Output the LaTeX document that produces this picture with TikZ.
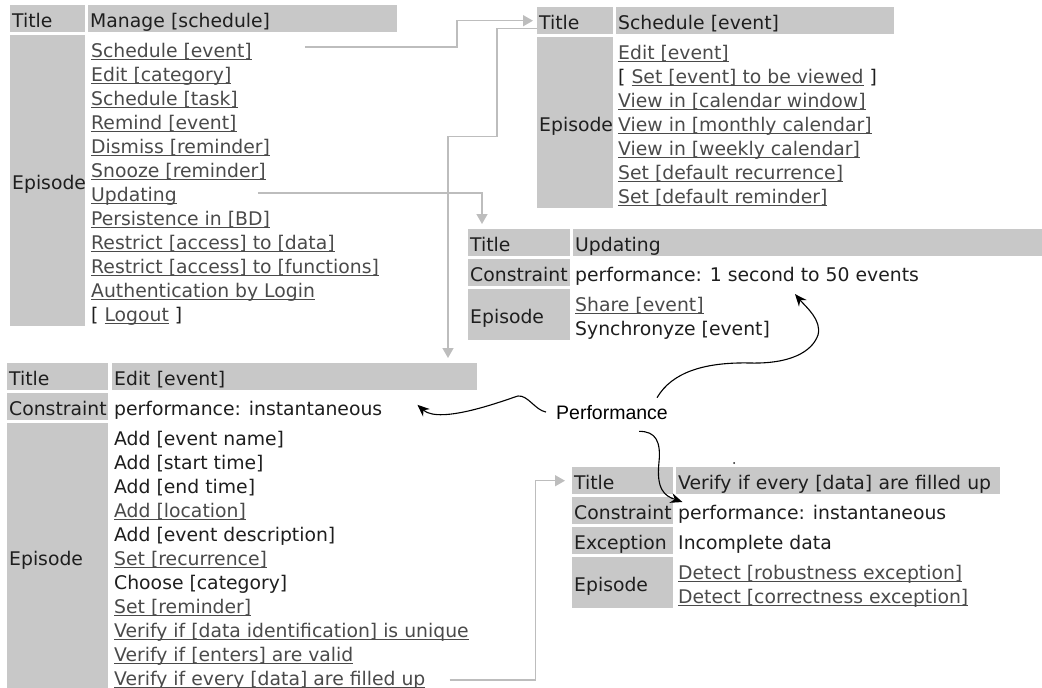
\documentclass[tikz,border=0pt]{standalone}
\usepackage{fontspec}
\usetikzlibrary{arrows.meta}
\newfontfamily\dejavu{DejaVu Sans}
\newfontfamily\arialfont{Liberation Sans}
\definecolor{cellgrey}{HTML}{C8C8C8}
\definecolor{wiregrey}{HTML}{BDBDBD}
\definecolor{linktext}{HTML}{4A4A4A}
\definecolor{labtext}{HTML}{1E1E1E}
\newcommand\tabfont{\dejavu\fontsize{18.8}{24}\selectfont}
\newcommand\ulink[1]{{\color{linktext}\setbox0\hbox{#1}\rlap{\rule[-3.2pt]{\wd0}{1pt}}\box0}}

\begin{document}
\begin{tikzpicture}[x=1pt,y=-1pt,
    lab/.style={fill=cellgrey, anchor=north west, inner xsep=2pt, inner ysep=0pt,
      text height=19pt, text depth=2pt, align=left, font=\tabfont, text=labtext},
    item/.style={anchor=base west, inner sep=0pt, font=\tabfont, text=labtext},
    wire/.style={draw=wiregrey, line width=1.5pt, -{Triangle[length=10pt,width=11pt]}},
    note/.style={draw=black, line width=1.1pt, -{Stealth[length=12pt,width=10pt]}}]
    \pgfmathsetmacro{\pitch}{24}
    \useasboundingbox (0,0) rectangle (1042,688);

    % Manage [schedule]
    \node[lab, text width=71pt, minimum height=27pt] (mng-title) at (10,5) {Title};
    \node[lab, text width=305pt, minimum height=27pt] (mng-name) at (88,5) {Manage [schedule]};
    \node[lab, text width=71pt, minimum height=291pt] (mng-ep) at (10,35) {Episode};
    \foreach \txt [count=\i from 0] in {\ulink{Schedule [event]}, \ulink{Edit [category]},
        \ulink{Schedule [task]}, \ulink{Remind [event]}, \ulink{Dismiss [reminder]},
        \ulink{Snooze [reminder]}, \ulink{Updating}, \ulink{Persistence in [BD]},
        \ulink{Restrict [access] to [data]}, \ulink{Restrict [access] to [functions]},
        \ulink{Authentication by Login}, {[ \ulink{Logout} ]}}
      \node[item] (mng-\i) at (91,{57+\pitch*\i}) {\txt};

    % Schedule [event]
    \node[lab, text width=72pt, minimum height=27pt] (sch-title) at (537,7) {Title};
    \node[lab, text width=274pt, minimum height=27pt] (sch-name) at (616,7) {Schedule [event]};
    \node[lab, text width=72pt, minimum height=171pt] (sch-ep) at (537,37) {Episode};
    \foreach \txt [count=\i from 0] in {\ulink{Edit [event]}, {[ \ulink{Set [event] to be viewed} ]},
        \ulink{View in [calendar window]}, \ulink{View in [monthly calendar]},
        \ulink{View in [weekly calendar]}, \ulink{Set [default recurrence]},
        \ulink{Set [default reminder]}}
      \node[item] (sch-\i) at (618,{59+\pitch*\i}) {\txt};

    % Updating
    \node[lab, text width=98pt, minimum height=27pt] (upd-title) at (468,229) {Title};
    \node[lab, text width=465pt, minimum height=27pt] (upd-name) at (573,229) {Updating};
    \node[lab, text width=98pt, minimum height=27pt] (upd-cons) at (468,259) {Constraint};
    \node[item] (upd-perf) at (575,281) {performance: 1 second to 50 events};
    \node[lab, text width=98pt, minimum height=51pt] (upd-ep) at (468,289) {Episode};
    \foreach \txt [count=\i from 0] in {\ulink{Share [event]}, Synchronyze [event]}
      \node[item] (upd-\i) at (575,{311+\pitch*\i}) {\txt};

    % Edit [event]
    \node[lab, text width=97pt, minimum height=27pt] (edt-title) at (7,363) {Title};
    \node[lab, text width=361pt, minimum height=27pt] (edt-name) at (112,363) {Edit [event]};
    \node[lab, text width=97pt, minimum height=27pt] (edt-cons) at (7,393) {Constraint};
    \node[item] (edt-perf) at (114,415) {performance: instantaneous};
    \node[lab, text width=97pt, minimum height=267pt] (edt-ep) at (7,423) {Episode};
    \foreach \txt [count=\i from 0] in {Add [event name], Add [start time], Add [end time],
        \ulink{Add [location]}, Add [event description], \ulink{Set [recurrence]},
        Choose [category], \ulink{Set [reminder]}, \ulink{Verify if [data identification] is unique},
        \ulink{Verify if [enters] are valid}, \ulink{Verify if every [data] are filled up}}
      \node[item] (edt-\i) at (114,{445+\pitch*\i}) {\txt};

    % Verify if every [data] are filled up
    \node[lab, text width=97pt, minimum height=27pt] (ver-title) at (572,467) {Title};
    \node[lab, text width=320pt, minimum height=27pt] (ver-name) at (676,467) {Verify if every [data] are filled up};
    \node[lab, text width=97pt, minimum height=27pt] (ver-cons) at (572,497) {Constraint};
    \node[item] (ver-perf) at (678,519) {performance: instantaneous};
    \node[lab, text width=97pt, minimum height=27pt] (ver-exc) at (572,527) {Exception};
    \node[item] (ver-inc) at (678,549) {Incomplete data};
    \node[lab, text width=97pt, minimum height=51pt] (ver-ep) at (572,557) {Episode};
    \foreach \txt [count=\i from 0] in {\ulink{Detect [robustness exception]}, \ulink{Detect [correctness exception]}}
      \node[item] (ver-\i) at (678,{579+\pitch*\i}) {\txt};

    % grey links between the tables
    \draw[wire] ([xshift=53pt,yshift=10pt]mng-0.base east) -- ++(152,0) |- ([xshift=-4pt]sch-title.west);
    \draw[wire] ([xshift=81pt,yshift=8pt]mng-6.base east) -| ([xshift=14pt,yshift=5pt]upd-title.north west);
    \draw[wire] ([yshift=6pt]sch-title.south west) -| ++(-40,108) -| ([xshift=336pt,yshift=5pt]edt-name.north west);
    \draw[wire] ([xshift=24pt,yshift=5pt]edt-10.base east) -- ++(86,0) |- ([xshift=-7pt]ver-title.west);

    % the note and its arrows
    \node[anchor=base west, inner sep=0pt, font=\arialfont\fontsize{19.5}{23}\selectfont] (perf) at (556,419) {Performance};
    \draw[note] ([xshift=-10pt]perf.west) .. controls (535,410) and (528,395) .. (518,396)
      .. controls (505,400) and (440,425) .. ([xshift=35pt,yshift=5pt]edt-perf.east);
    \draw[note] ([xshift=-11pt,yshift=7pt]perf.north east) .. controls (672,372) and (705,362) .. (750,363)
      .. controls (790,364) and (812,352) .. (818,335)
      .. controls (822,320) and (806,307) .. ([xshift=220pt,yshift=-9pt]upd-perf.south west);
    \draw[note] ([xshift=27pt,yshift=-12pt]perf.south) .. controls (656,431) and (661,442) .. (659,462)
      .. controls (656,490) and (665,496) .. ([xshift=9pt,yshift=-5pt]ver-cons.north east);
    \fill[labtext] (734,463) circle (1pt);
\end{tikzpicture}
\end{document}
